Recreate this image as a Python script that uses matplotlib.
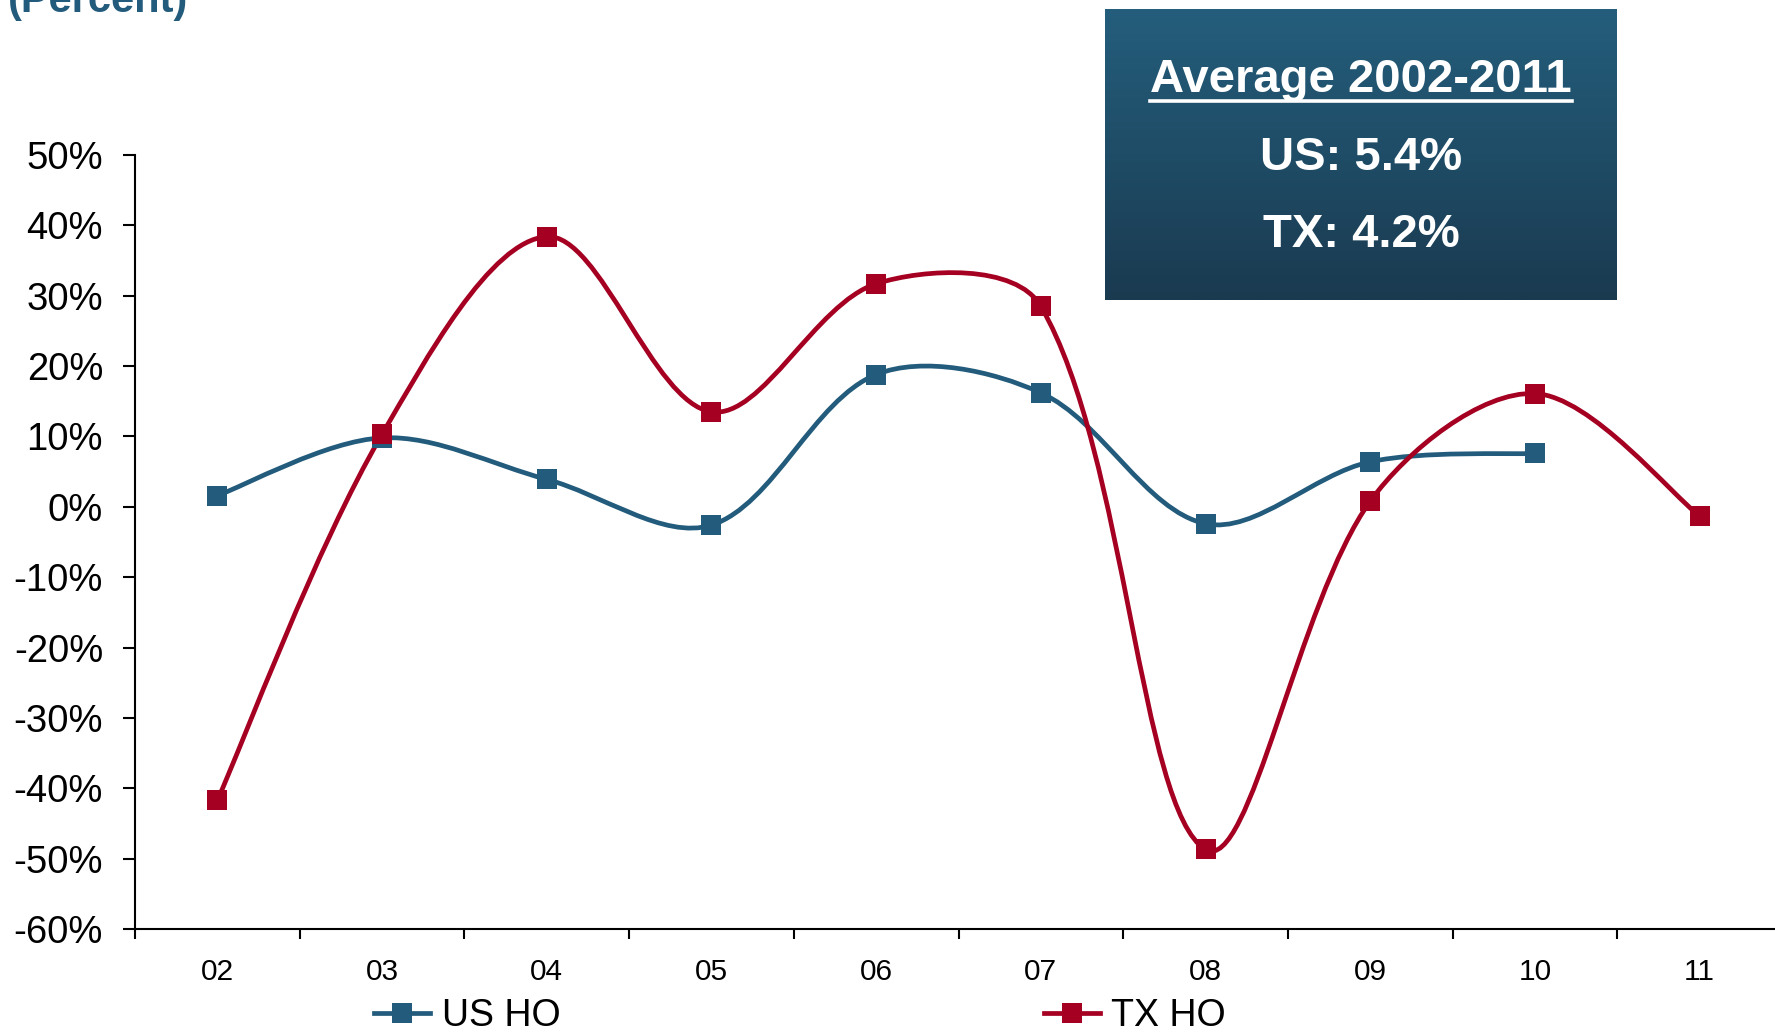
"""
Home ownership growth: US vs TX, 2002-2011
Smoothed line chart with an "Average" call-out box.
"""

import numpy as np
import matplotlib
matplotlib.use("Agg")
import matplotlib.pyplot as plt
from matplotlib.path import Path
from matplotlib.patches import PathPatch
from matplotlib.lines import Line2D

# --- Data ---
YEARS = ["02", "03", "04", "05", "06", "07", "08", "09", "10", "11"]
US_HO = [1.6, 9.8, 3.9, -2.6, 18.8, 16.2, -2.4, 6.4, 7.6]
TX_HO = [-41.7, 10.3, 38.4, 13.5, 31.7, 28.5, -48.7, 0.8, 16.1, -1.3]
Y_TICKS = [50, 40, 30, 20, 10, 0, -10, -20, -30, -40, -50, -60]
AVG_TITLE = "Average 2002-2011"
AVG_LINES = ["US: 5.4%", "TX: 4.2%"]

# --- Style ---
BLUE = "#225B7B"
RED = "#A50021"
FONT = ["Liberation Sans", "DejaVu Sans"]
W, H = 1775, 1035

plt.rcParams["font.family"] = FONT


def smooth_path(xs, ys, sx, sy):
    """Smoothed line: cubic Bezier through each point, handles scaled
    by the neighbouring segment lengths (measured in pixels)."""
    P = np.column_stack([np.asarray(xs, float) * sx, np.asarray(ys, float) * sy])
    n = len(P)
    verts = [tuple(P[0])]
    codes = [Path.MOVETO]
    for i in range(n - 1):
        a = max(i - 1, 0)
        b = min(i + 2, n - 1)
        d = np.linalg.norm(P[i + 1] - P[i])
        # outgoing handle at point i
        t1 = P[i + 1] - P[a]
        da = np.linalg.norm(P[i] - P[a])
        k1 = 2 * d / (da + d) if da > 0 else 1.0
        c1 = P[i] + t1 / 6 * k1
        # incoming handle at point i+1
        t2 = P[b] - P[i]
        db = np.linalg.norm(P[b] - P[i + 1])
        k2 = 2 * d / (db + d) if db > 0 else 1.0
        c2 = P[i + 1] - t2 / 6 * k2
        verts += [tuple(c1), tuple(c2), tuple(P[i + 1])]
        codes += [Path.CURVE4] * 3
    verts = np.array(verts)
    verts[:, 0] /= sx
    verts[:, 1] /= sy
    return Path(verts, codes)


fig = plt.figure(figsize=(W / 100, H / 100), dpi=100)
left, right = 135 / W, 1782 / W
bottom, top = (H - 929) / H, (H - 155) / H
ax = fig.add_axes([left, bottom, right - left, top - bottom])

ax.set_xlim(-0.5, len(YEARS) - 0.5)
ax.set_ylim(-60, 50)

# pixel scale of one data unit, used to shape the curves
ax_w = (right - left) * W
ax_h = (top - bottom) * H
sx = ax_w / len(YEARS)
sy = ax_h / (Y_TICKS[0] - Y_TICKS[-1])

series = [("US HO", US_HO, BLUE), ("TX HO", TX_HO, RED)]
handles = []
for name, vals, color in series:
    xs = np.arange(len(vals))
    ax.add_patch(PathPatch(smooth_path(xs, vals, sx, sy), fill=False, edgecolor=color,
                           lw=3.4, capstyle="round", joinstyle="round", zorder=3))
    ax.plot(xs, vals, "s", color=color, ms=14.5, mew=0, zorder=4)
    handles.append(Line2D([], [], color=color, lw=3.4, marker="s", ms=14.5, mew=0))

ax.set_yticks(Y_TICKS)
ax.set_yticklabels([f"{v}%" for v in Y_TICKS], fontsize=27.5)
ax.set_xticks(np.arange(len(YEARS) + 1) - 0.5)
ax.set_xticklabels([])
ax.set_xticks(np.arange(len(YEARS)), minor=True)
ax.set_xticklabels(YEARS, minor=True, fontsize=21.5)
ax.tick_params(axis="y", direction="out", length=9, width=1.5, pad=14)
ax.tick_params(axis="x", which="major", direction="out", length=7, width=1.5)
ax.tick_params(axis="x", which="minor", length=0, pad=21)
for side in ["top", "right"]:
    ax.spines[side].set_visible(False)
for side in ["left", "bottom"]:
    ax.spines[side].set_linewidth(1.5)

# legend along the bottom edge
leg = fig.legend(handles, [s[0] for s in series], ncol=2, frameon=False,
                 loc="lower left", bbox_to_anchor=(374 / W, 1 / H),
                 prop={"size": 27},
                 handlelength=1.5, handletextpad=0.3, columnspacing=12.9,
                 borderpad=0, borderaxespad=0)

# "(Percent)" label, clipped by the top edge
fig.text(8 / W, 1 - 12 / H, "(Percent)", fontsize=30, fontweight="bold",
         color=BLUE, va="baseline", ha="left")

# gradient call-out box
bx0, bx1, by0, by1 = 1105, 1617, 9, 300
box = fig.add_axes([bx0 / W, 1 - by1 / H, (bx1 - bx0) / W, (by1 - by0) / H])
grad = np.linspace(0, 1, 256).reshape(-1, 1)
cmap = matplotlib.colors.LinearSegmentedColormap.from_list("g", ["#245E7C", "#1A3A50"])
box.imshow(grad, aspect="auto", cmap=cmap, extent=[0, 1, 0, 1], origin="upper")
box.set_axis_off()

cx = 1361 / W
title = fig.text(cx, 1 - 92 / H, AVG_TITLE, fontsize=34, fontweight="bold",
                 color="white", ha="center", va="baseline")
for txt, base in zip(AVG_LINES, [170, 247]):
    fig.text(cx, 1 - base / H, txt, fontsize=34, fontweight="bold",
             color="white", ha="center", va="baseline")

fig.canvas.draw()
bb = title.get_window_extent()
uy = 1 - 101 / H
fig.add_artist(Line2D([bb.x0 / W, bb.x1 / W], [uy, uy], color="white", lw=2.6,
                      transform=fig.transFigure))

fig.savefig("out.png", dpi=100)
